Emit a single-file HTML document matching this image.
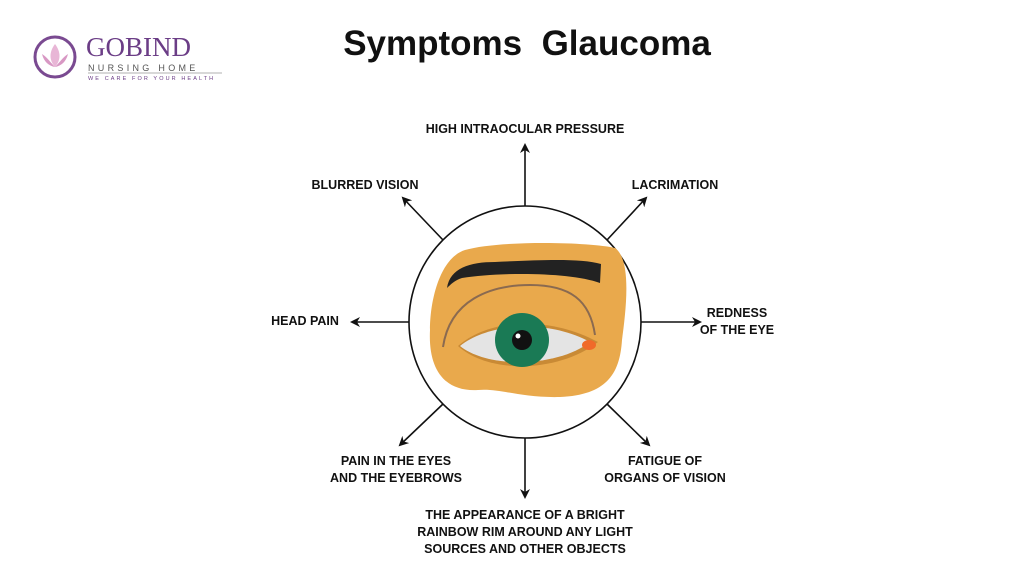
<!DOCTYPE html>
<html><head><style>
body{margin:0;width:1024px;height:576px;background:#fff;overflow:hidden;font-family:"Liberation Sans",sans-serif;position:relative}
.t{position:absolute;font-weight:bold;font-size:12.5px;color:#111;text-align:center;line-height:17px;white-space:nowrap}
</style></head><body>
<svg width="1024" height="576" style="position:absolute;left:0;top:0">
<defs><marker id="a" markerWidth="10" markerHeight="10" refX="8" refY="5" orient="auto" markerUnits="userSpaceOnUse"><path d="M0,0 L10,5 L0,10 L3,5 Z" fill="#111"/></marker></defs>
<circle cx="55" cy="57" r="20" fill="none" stroke="#7a4a91" stroke-width="3"/>
<path d="M55,44 C49,52 49,60 55,67 C61,60 61,52 55,44Z" fill="#e8b6d6"/>
<path d="M42,54 C44,62 49,66 55,67 C50,62 47,57 42,54Z M68,54 C66,62 61,66 55,67 C60,62 63,57 68,54Z" fill="#d898c4"/>
<text x="86" y="56" font-family="Liberation Serif,serif" font-size="27" fill="#6b3d86">GOBIND</text>
<text x="88" y="71" font-size="9" fill="#555" letter-spacing="3.3">NURSING HOME</text>
<line x1="88" y1="73" x2="222" y2="73" stroke="#999" stroke-width="0.7"/>
<text x="88" y="80" font-size="5.5" fill="#6b3d86" letter-spacing="2.1">WE CARE FOR YOUR HEALTH</text>
<g stroke="#111" stroke-width="1.6" marker-end="url(#a)">
<line x1="525" y1="206" x2="525" y2="145"/>
<line x1="525" y1="438" x2="525" y2="497"/>
<line x1="641" y1="322" x2="700" y2="322"/>
<line x1="409" y1="322" x2="352" y2="322"/>
<line x1="607" y1="240" x2="646" y2="198"/>
<line x1="443" y1="240" x2="403" y2="198"/>
<line x1="443" y1="404" x2="400" y2="445"/>
<line x1="607" y1="404" x2="649" y2="445"/>
</g>
<circle cx="525" cy="322" r="116" fill="#fff" stroke="#111" stroke-width="1.6"/>
<path d="M465,250 C500,240 590,242 615,248 C632,260 626,310 622,340 C620,370 610,395 560,397 C520,398 500,388 478,390 C445,392 428,370 430,330 C430,300 440,258 465,250Z" fill="#e9a94c"/>
<path d="M447,288 C450,268 470,262 495,262 C540,260 580,258 601,264 L600,283 C570,272 500,272 462,278 C455,280 450,285 447,288Z" fill="#222"/>
<path d="M443,347 C450,300 490,285 530,285 C570,285 590,300 595,335" fill="none" stroke="#8a6a50" stroke-width="2"/>
<path d="M458,346 C490,318 550,316 598,342 C560,372 490,375 458,346Z" fill="#c98a35"/>
<path d="M460,346 C490,322 550,320 590,342 C560,366 490,370 460,346Z" fill="#e4e4e4"/>
<circle cx="522" cy="340" r="27" fill="#1a7a55"/>
<circle cx="522" cy="340" r="10" fill="#111"/>
<circle cx="518" cy="336" r="2.5" fill="#fff"/>
<ellipse cx="589" cy="345" rx="7" ry="5" fill="#f06a2a"/>
</svg>
<div style="position:absolute;left:0;width:1054px;top:24px;text-align:center;font-weight:bold;font-size:35px;color:#111">Symptoms&nbsp; Glaucoma</div>
<div class="t" style="left:425px;top:121px;width:200px">HIGH INTRAOCULAR PRESSURE</div>
<div class="t" style="left:300px;top:177px;width:130px">BLURRED VISION</div>
<div class="t" style="left:615px;top:177px;width:120px">LACRIMATION</div>
<div class="t" style="left:265px;top:313px;width:80px">HEAD PAIN</div>
<div class="t" style="left:692px;top:305px;width:90px">REDNESS<br>OF THE EYE</div>
<div class="t" style="left:316px;top:453px;width:160px">PAIN IN THE EYES<br>AND THE EYEBROWS</div>
<div class="t" style="left:600px;top:453px;width:130px">FATIGUE OF<br>ORGANS OF VISION</div>
<div class="t" style="left:395px;top:507px;width:260px">THE APPEARANCE OF A BRIGHT<br>RAINBOW RIM AROUND ANY LIGHT<br>SOURCES AND OTHER OBJECTS</div>
</body></html>
